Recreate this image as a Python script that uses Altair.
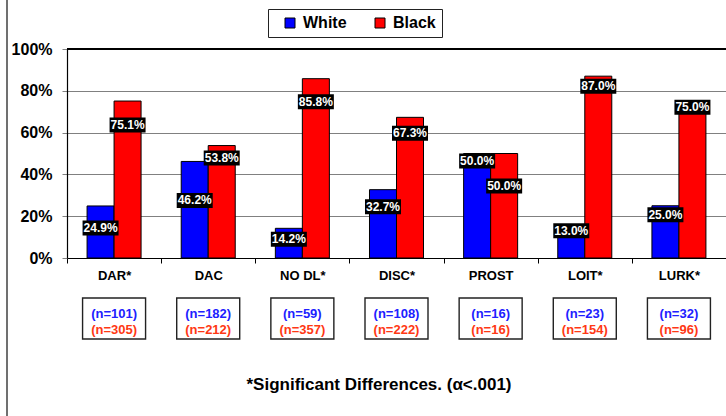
import altair as alt
import pandas as pd

# ---- data ----
categories = ["DAR*", "DAC", "NO DL*", "DISC*", "PROST", "LOIT*", "LURK*"]
white_pct = [24.9, 46.2, 14.2, 32.7, 50.0, 13.0, 25.0]
black_pct = [75.1, 53.8, 85.8, 67.3, 50.0, 87.0, 75.0]
white_n = [101, 182, 59, 108, 16, 23, 32]
black_n = [305, 212, 357, 222, 16, 154, 96]
series = ["White", "Black"]
footnote = "*Significant Differences. (\u03b1<.001)"

# label placement (pixels below the bar top), as placed in the reference
white_label_drop = [22, 39, 11, 17, 7.5, 0, 9]
black_label_drop = [24, 12.5, 23, 16, 32.5, 10, 6]

# ---- layout constants ----
PLOT_W, PLOT_H = 659, 209
PAD_L, PAD_T = 67, 49
FONT = "Liberation Sans"
BLUE, RED = "#0000FF", "#FF0000"

rows = []
for i, c in enumerate(categories):
    rows.append({"cat": c, "series": "White", "value": white_pct[i], "drop": white_label_drop[i]})
    rows.append({"cat": c, "series": "Black", "value": black_pct[i], "drop": black_label_drop[i]})
df = pd.DataFrame(rows)
cat_df = pd.DataFrame({
    "cat": categories,
    "nw": ["(n=%d)" % v for v in white_n],
    "nb": ["(n=%d)" % v for v in black_n],
})

xenc = alt.X("cat:N", sort=categories, title=None,
             scale=alt.Scale(paddingInner=0, paddingOuter=0),
             axis=alt.Axis(labelAngle=0, labelFont=FONT, labelFontWeight="bold", labelFontSize=13,
                           labelColor="black", labelPadding=6, tickBand="extent", tickSize=5,
                           tickColor="black", domainColor="black", domainWidth=1.2, grid=False))
xoff = alt.XOffset("series:N", sort=series,
                   scale=alt.Scale(paddingInner=0, paddingOuter=0.743))
yscale = alt.Scale(domain=[0, 100], nice=False)

base = alt.Chart(df)

bars = base.mark_bar(stroke="black", strokeWidth=1).encode(
    x=xenc,
    xOffset=xoff,
    y=alt.Y("value:Q", scale=yscale, title=None,
            axis=alt.Axis(values=[0, 20, 40, 60, 80, 100], labelExpr="datum.value + '%'",
                          labelFont=FONT, labelFontWeight="bold", labelFontSize=16,
                          labelColor="black", labelPadding=10, tickSize=5, tickColor="#808080",
                          domainColor="black", domainWidth=1.2, grid=True,
                          gridColor="#808080", gridWidth=1.2)),
    color=alt.Color("series:N", sort=series,
                    scale=alt.Scale(domain=series, range=[BLUE, RED]),
                    legend=alt.Legend(title=None, orient="none", legendX=201, legendY=-40,
                                      direction="horizontal", symbolType="square",
                                      symbolSize=100, symbolStrokeColor="black",
                                      symbolStrokeWidth=1, symbolOffset=8,
                                      labelFont=FONT, labelFontWeight="bold",
                                      labelFontSize=16, labelColor="black", labelOffset=5,
                                      columnPadding=17, padding=6, strokeColor="#222222",
                                      fillColor="white")),
)

lab = base.transform_calculate(
    ly="datum.value - datum.drop * 100 / %d" % PLOT_H,
    txt="format(datum.value, '.1f') + '%'",
)
label_box = lab.mark_point(
    shape="M-1,-0.4167L1,-0.4167L1,0.4167L-1,0.4167Z", size=36 * 36,
    filled=True, color="black", opacity=1,
).encode(x=alt.X("cat:N", sort=categories), xOffset=xoff,
         y=alt.Y("ly:Q", scale=yscale))
label_txt = lab.mark_text(
    font=FONT, fontWeight="bold", fontSize=12, color="white", baseline="middle", align="center",
).encode(x=alt.X("cat:N", sort=categories), xOffset=xoff,
         y=alt.Y("ly:Q", scale=yscale), text="txt:N")

top_rule = alt.Chart(cat_df).mark_rule(color="black", strokeWidth=1.8).encode(
    y=alt.datum(100, scale=yscale))

cbase = alt.Chart(cat_df)
n_box = cbase.mark_point(
    shape="M-1,-0.651L1,-0.651L1,0.651L-1,0.651Z", size=63 * 63,
    filled=False, stroke="#222222", strokeWidth=1.4, fill="white", opacity=1,
).encode(x=alt.X("cat:N", sort=categories), y=alt.value(269.5))
n_white = cbase.mark_text(font=FONT, fontWeight="bold", fontSize=13, color="#2020FF",
                          baseline="middle").encode(
    x=alt.X("cat:N", sort=categories), y=alt.value(265), text="nw:N")
n_black = cbase.mark_text(font=FONT, fontWeight="bold", fontSize=13, color="#FF3814",
                          baseline="middle").encode(
    x=alt.X("cat:N", sort=categories), y=alt.value(281), text="nb:N")

foot = alt.Chart(pd.DataFrame({"t": [footnote]})).mark_text(
    font=FONT, fontWeight="bold", fontSize=17, color="black", baseline="middle", align="center",
).encode(x=alt.value(312), y=alt.value(336), text="t:N")

frame = alt.Chart(pd.DataFrame({"t": [0]})).mark_rule(color="#404040", strokeWidth=1.5).encode(
    x=alt.value(-60), y=alt.value(-49), y2=alt.value(367))

chart = alt.layer(
    bars, label_box, label_txt, top_rule, n_box, n_white, n_black, foot, frame
).properties(
    width=PLOT_W, height=PLOT_H,
    autosize=alt.AutoSizeParams(type="none"),
    padding={"left": PAD_L, "top": PAD_T, "right": 0, "bottom": 416 - PAD_T - PLOT_H},
    background="white",
).configure_view(stroke=None).configure(font=FONT)

chart.save("out.html", embed_options={"renderer": "svg", "actions": False})
